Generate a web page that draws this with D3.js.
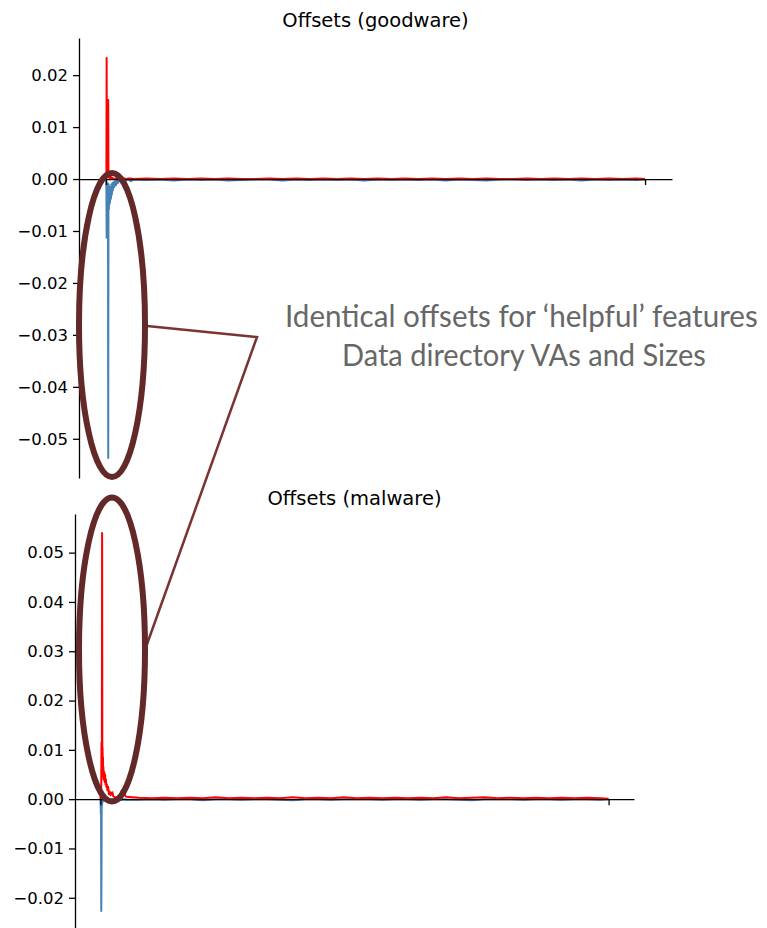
<!DOCTYPE html>
<html>
<head>
<meta charset="utf-8">
<script src="https://cdn.jsdelivr.net/npm/d3@7"></script>
<style>
  body { margin: 0; background: #fff; }
  svg { display: block; }
</style>
</head>
<body>
<svg id="chart" width="767" height="928"></svg>
<script>
// Feature positions shared by both panels (dense at the start, sparse afterwards)
const featureIdx = [
  0, 1, 2, 3, 4, 5, 6, 7, 8, 9, 10, 11, 12, 13, 14, 15, 16,
  18, 20, 22, 24, 26, 28, 30,
  33, 36, 40, 44, 48, 52, 56, 60,
  70, 80, 90, 100, 110, 120,
  180, 240, 300, 360, 420, 480, 540, 600, 660, 720,
  780, 840, 900, 960, 1020, 1080, 1140, 1200, 1260, 1320,
  1380, 1440, 1500, 1560, 1620, 1680, 1740, 1800, 1860, 1920,
  1980, 2040, 2100, 2160, 2220, 2280, 2340,
  2380
];

// Goodware offsets
const goodwareBlue = [
  0, -0.0005, -0.002, -0.0113, -0.001, -0.004, -0.0015, -0.003, -0.0008, -0.002, -0.0537, -0.006, -0.001, -0.0058, -0.0015, -0.005, -0.002,
  -0.0045, -0.0015, -0.0038, -0.001, -0.003, -0.0008, -0.0022,
  -0.0006, -0.0016, -0.0004, -0.0012, -0.0003, -0.0008, -0.0001, -0.0004,
  -0.0001, -0.0007, -0.0002, -0.0001, -0.0004, -0.0001,
  -0.0002, -0.0001, -0.0003, -0.0001, -0.0002, -0.0001, -0.0003, -0.0002, -0.0001, -0.0001,
  -0.0003, -0.0001, -0.0002, -0.0001, -0.0002, -0.0001, -0.0003, -0.0001, -0.0002, -0.0001,
  -0.0002, -0.0001, -0.0003, -0.0001, -0.0002, -0.0003, -0.0001, -0.0001, -0.0002, -0.0001,
  -0.0002, -0.0001, -0.0003, -0.0001, -0.0002, -0.0001, -0.0002,
  -0.0001
];
const goodwareRed = [
  0, 0.0005, 0.001, 0.0233, 0.001, 0.0008, 0.0012, 0.0005, 0.001, 0.0003, 0.0152, 0.0008, 0.0012, 0.0004, 0.001, 0.0003, 0.0008,
  0.0002, 0.0006, 0.0001, 0.0003, 0, 0.0002, 0.0001,
  0.0001, 0, 0.0001, 0.0001, 0, 0.0001, 0.0001, 0,
  0.0001, 0.0001, 0, 0.0001, 0.0001, 0,
  0.0001, 0, 0.0001, 0, 0.0001, 0, 0.0001, 0, 0, 0.0001,
  0, 0.0001, 0, 0.0001, 0, 0.0001, 0, 0.0001, 0, 0.0001,
  0, 0.0001, 0, 0.0001, 0, 0.0001, 0, 0, 0.0001, 0,
  0.0001, 0, 0.0001, 0, 0.0001, 0, 0.0001,
  0
];

// Malware offsets
const malwareBlue = [
  0, -0.001, -0.003, -0.0005, -0.0227, -0.0154, -0.002, -0.0004, -0.001, -0.0002, -0.0006, -0.0001, -0.0003, 0, -0.0002, -0.0001, -0.0003,
  -0.0001, -0.0002, 0, -0.0001, -0.0002, 0, -0.0001,
  -0.0002, 0, -0.0001, -0.0002, 0, -0.0001, 0, -0.0002,
  -0.0001, 0, -0.0002, -0.0001, 0, -0.0001,
  -0.0001, 0, -0.0001, 0, 0, -0.0002, 0, 0, -0.0001, 0,
  0, -0.0001, -0.0002, 0, 0, -0.0001, 0, 0, 0, -0.0001,
  0, 0, -0.0001, 0, 0, -0.0001, -0.0002, 0, 0, 0,
  -0.0001, 0, 0, -0.0001, 0, 0, -0.0001,
  0
];
const malwareRed = [
  0, 0.0008, 0.002, 0.001, 0.003, 0.0114, 0.0045, 0.011, 0.054, 0.0095, 0.0105, 0.007, 0.0085, 0.005, 0.0065, 0.004, 0.0055,
  0.0055, 0.0035, 0.005, 0.003, 0.004, 0.0025, 0.003,
  0.0018, 0.0025, 0.001, 0.0015, 0.0008, 0.0012, 0.0014, 0.0006,
  0.0003, 0.0005, 0.0004, 0.0018, 0.0012, 0.0005,
  0.0003, 0.0002, 0.0003, 0.0002, 0.0003, 0.0002, 0.0004, 0.0002, 0.0003, 0.0002,
  0.0003, 0.0002, 0.0004, 0.0002, 0.0003, 0.0002, 0.0004, 0.0002, 0.0003, 0.0002,
  0.0003, 0.0002, 0.0003, 0.0002, 0.0004, 0.0002, 0.0003, 0.0004, 0.0002, 0.0003,
  0.0002, 0.0003, 0.0002, 0.0003, 0.0002, 0.0003, 0.0002,
  0.0001
];

const goodwareTicks = [-0.05, -0.04, -0.03, -0.02, -0.01, 0, 0.01, 0.02];
const malwareTicks = [-0.02, -0.01, 0, 0.01, 0.02, 0.03, 0.04, 0.05];
const xTicks = [0, 2380];
const panelTitles = ["Offsets (goodware)", "Offsets (malware)"];
const noteLines = ["Identical offsets for \u2018helpful\u2019 features", "Data directory VAs and Sizes"];

const svg = d3.select("#chart");
const BLUE = "#4682b4", RED = "#ff0000";
const fmt = d3.format(".2f");

// autoscale with 5% margin on each side
function padded(lo, hi) {
  const m = (hi - lo) * 0.05;
  return [lo - m, hi + m];
}

function drawPanel(p) {
  const g = svg.append("g");
  const x = d3.scaleLinear()
    .domain(padded(d3.min(featureIdx), d3.max(featureIdx)))
    .range([p.left, p.right]);
  const lo = Math.min(d3.min(p.blue), d3.min(p.red));
  const hi = Math.max(d3.max(p.blue), d3.max(p.red));
  const y = d3.scaleLinear().domain(padded(lo, hi)).range([p.bottom, p.top]);

  const line = d3.line()
    .x((d, i) => x(featureIdx[i]))
    .y(d => y(d));

  g.append("path").datum(p.blue)
    .attr("d", line).attr("fill", "none")
    .attr("stroke", BLUE).attr("stroke-width", 2).attr("stroke-linejoin", "round");
  g.append("path").datum(p.red)
    .attr("d", line).attr("fill", "none")
    .attr("stroke", RED).attr("stroke-width", 2).attr("stroke-linejoin", "round");

  // left spine with ticks
  const ya = g.append("g")
    .attr("transform", `translate(${p.left},0)`)
    .call(d3.axisLeft(y).tickValues(p.ticks).tickFormat(fmt)
      .tickSize(6).tickPadding(5).tickSizeOuter(0));
  // bottom spine placed at zero
  const xa = g.append("g")
    .attr("transform", `translate(0,${y(0)})`)
    .call(d3.axisBottom(x).tickValues(xTicks).tickFormat("")
      .tickSize(6).tickSizeOuter(0));

  [ya, xa].forEach(a => {
    a.select(".domain").attr("stroke", "#000").attr("stroke-width", 1.3);
    a.selectAll(".tick line").attr("stroke", "#000").attr("stroke-width", 1.3);
    a.selectAll(".tick text")
      .attr("font-family", "DejaVu Sans").attr("font-size", 16.5).attr("fill", "#000");
  });

  g.append("text")
    .attr("x", (p.left + p.right) / 2).attr("y", p.titleY)
    .attr("text-anchor", "middle")
    .attr("font-family", "DejaVu Sans").attr("font-size", 19.5).attr("fill", "#000")
    .text(p.title);
}

drawPanel({ left: 79, right: 672, top: 38, bottom: 478, blue: goodwareBlue, red: goodwareRed,
            ticks: goodwareTicks, title: panelTitles[0], titleY: 27 });
drawPanel({ left: 75, right: 634, top: 514, bottom: 930, blue: malwareBlue, red: malwareRed,
            ticks: malwareTicks, title: panelTitles[1], titleY: 505 });

// callout: ellipses around the leading offsets, joined by leader lines to the note
const ann = svg.append("g");
ann.append("polyline")
  .attr("points", "147,326 257,337 146,647")
  .attr("fill", "none").attr("stroke", "#7a3232").attr("stroke-width", 2.5);
[[112, 325], [112, 649.5]].forEach(([cx, cy]) => {
  ann.append("ellipse")
    .attr("cx", cx).attr("cy", cy).attr("rx", 33).attr("ry", 152)
    .attr("fill", "none").attr("stroke", "#632828").attr("stroke-width", 6);
});

// note text, narrowed horizontally to the width of its box
const noteBox = [[285, 758, 327], [342, 706, 366]];
noteLines.forEach((t, i) => {
  const [x0, x1, yb] = noteBox[i];
  const txt = ann.append("text")
    .attr("x", 0).attr("y", 0)
    .attr("font-family", "Lato, 'Open Sans', sans-serif").attr("font-size", 31)
    .attr("fill", "#676767")
    .text(t);
  const k = (x1 - x0) / txt.node().getComputedTextLength();
  txt.attr("transform", `translate(${x0},${yb}) scale(${k},1)`);
});
</script>
</body>
</html>
